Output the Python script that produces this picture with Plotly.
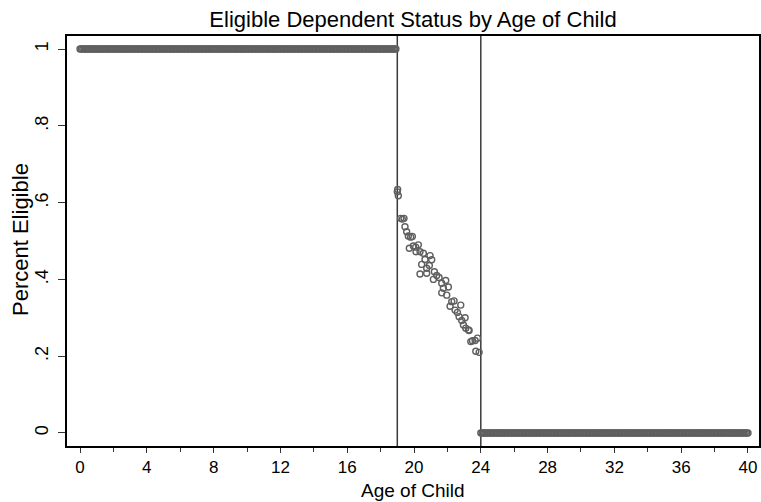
import plotly.graph_objects as go

# ---- data ----
ages_eligible = [m / 12 for m in range(0, 228)]        # 0 .. 18.92, monthly
pct_eligible_young = [1.0] * len(ages_eligible)

ages_mid = [19.0, 19.02, 19.06, 19.2, 19.3, 19.4, 19.46, 19.56, 19.66, 19.72,
            19.8, 19.9, 19.96, 20.1, 20.12, 20.26, 20.36, 20.36, 20.46, 20.56,
            20.66, 20.76, 20.76, 20.92, 20.96, 21.06, 21.16, 21.22, 21.36, 21.5,
            21.66, 21.66, 21.76, 21.9, 21.96, 22.06, 22.16, 22.26, 22.4, 22.46,
            22.6, 22.7, 22.8, 22.86, 22.96, 23.06, 23.1, 23.26, 23.3, 23.4,
            23.5, 23.66, 23.7, 23.8, 23.9]
pct_mid = [0.628, 0.634, 0.618, 0.559, 0.557, 0.559, 0.537, 0.524, 0.513, 0.481,
           0.51, 0.512, 0.487, 0.484, 0.472, 0.49, 0.472, 0.414, 0.439, 0.468,
           0.452, 0.429, 0.416, 0.436, 0.462, 0.451, 0.40, 0.42, 0.41, 0.405,
           0.39, 0.365, 0.377, 0.397, 0.359, 0.38, 0.33, 0.342, 0.344, 0.32,
           0.314, 0.303, 0.333, 0.293, 0.281, 0.30, 0.273, 0.268, 0.267, 0.238,
           0.24, 0.241, 0.213, 0.247, 0.21]

ages_old = [24 + m / 12 for m in range(0, 193)]          # 24 .. 40, monthly
pct_old = [0.0] * len(ages_old)

cutoffs = [19, 24]

x_ticks = [0, 4, 8, 12, 16, 20, 24, 28, 32, 36, 40]
y_ticks = [0, 0.2, 0.4, 0.6, 0.8, 1]
y_tick_labels = ["0", ".2", ".4", ".6", ".8", "1"]

title_text = "Eligible Dependent Status by Age of Child"
x_title = "Age of Child"
y_title = "Percent Eligible"

# ---- figure ----
xs = ages_eligible + ages_mid + ages_old
ys = pct_eligible_young + pct_mid + pct_old

fig = go.Figure()
fig.add_trace(go.Scatter(
    x=xs, y=ys, mode="markers",
    marker=dict(symbol="circle-open", size=6, color="#5f5f5f",
                line=dict(width=1.4, color="#5f5f5f")),
    showlegend=False, hoverinfo="x+y"))

for c in cutoffs:
    fig.add_shape(type="line", xref="x", yref="paper", x0=c, x1=c, y0=0, y1=1,
                  line=dict(color="#3a3a3a", width=1.5), layer="below")

font = "Liberation Sans, Arial, Helvetica, sans-serif"
W, H = 761, 502
ML, MR, MT, MB = 67, 2, 36, 56
pw, ph = W - ML - MR, H - MT - MB

fig.update_layout(
    width=W, height=H,
    margin=dict(l=ML, r=MR, t=MT, b=MB),
    paper_bgcolor="white", plot_bgcolor="white",
    font=dict(family=font, size=17, color="black"),
    title=dict(text=title_text, x=(413) / W, xanchor="center",
               y=1 - 19 / H, yanchor="middle",
               font=dict(size=22, family=font, color="black")),
    annotations=[
        dict(text=x_title, xref="paper", yref="paper",
             x=(413 - ML) / pw, y=(MT + ph - 490) / ph,
             xanchor="center", yanchor="middle", showarrow=False,
             font=dict(size=19, family=font, color="black")),
        dict(text=y_title, xref="paper", yref="paper",
             x=(20 - ML) / pw, y=(MT + ph - 240) / ph, textangle=-90,
             xanchor="center", yanchor="middle", showarrow=False,
             font=dict(size=22, family=font, color="black")),
    ],
)
fig.update_xaxes(
    range=[-0.78, 40.66], tickvals=x_ticks, ticktext=[str(t) for t in x_ticks],
    showgrid=False, zeroline=False, showline=True, mirror=True,
    linecolor="black", linewidth=1.5, ticks="outside", ticklen=5,
    tickcolor="#333", tickwidth=1, automargin=False,
    minor=dict(dtick=2, tick0=0, ticks="outside", ticklen=4, tickcolor="#333", showgrid=False),
    tickfont=dict(size=17),
)
fig.update_yaxes(
    range=[-0.034, 1.034], tickvals=y_ticks, ticktext=y_tick_labels,
    tickangle=-90, automargin=False,
    showgrid=False, zeroline=False, showline=True, mirror=True,
    linecolor="black", linewidth=1.5, ticks="outside", ticklen=7,
    tickcolor="#333", tickwidth=1, ticklabelstandoff=3,
    tickfont=dict(size=18),
)

fig.write_html("out.html")
